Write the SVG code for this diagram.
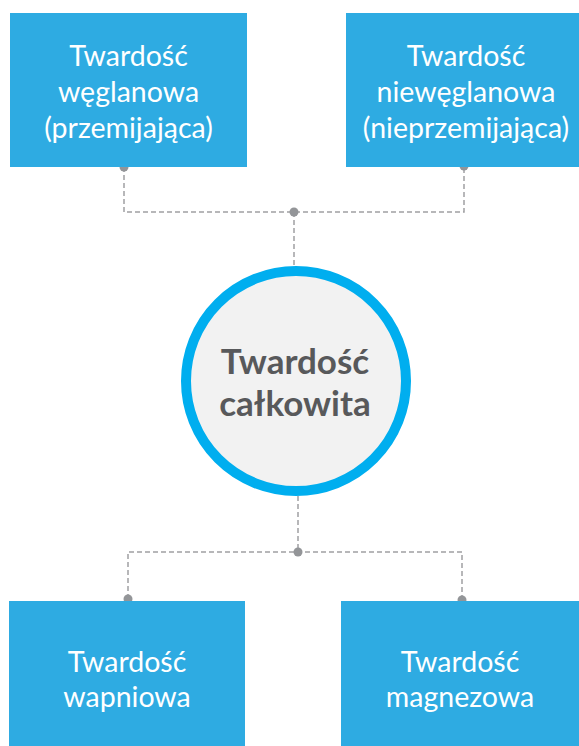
<svg xmlns="http://www.w3.org/2000/svg" width="579" height="746" viewBox="0 0 579 746">
<style>
.box{fill:#2EABE2;}
.bt{font-family:Lato,"Open Sans","Liberation Sans",sans-serif;font-size:28.5px;fill:#FFFFFF;text-anchor:middle;}
.ct{font-family:Lato,"Open Sans","Liberation Sans",sans-serif;font-size:35px;font-weight:bold;fill:#58595B;text-anchor:middle;}
.dash{fill:none;stroke:#A0A0A3;stroke-width:1.5;stroke-dasharray:5 3;}
.dot{fill:#939598;}
</style>
<rect width="579" height="746" fill="#FFFFFF"/>
<g id="connectors">
<path class="dash" d="M124 167 V212 H464 V166"/>
<path class="dash" d="M294 212 V266"/>
<path class="dash" d="M298 496 V552"/>
<path class="dash" d="M128 599 V552 H462 V600"/>
<circle class="dot" cx="124" cy="167" r="4.5"/>
<circle class="dot" cx="464" cy="166" r="4.5"/>
<circle class="dot" cx="294" cy="212" r="4.5"/>
<circle class="dot" cx="298" cy="552" r="4.5"/>
<circle class="dot" cx="128" cy="599" r="4.5"/>
<circle class="dot" cx="462" cy="600" r="4.5"/>
</g>
<g id="node-weglanowa">
<rect class="box" x="10" y="13" width="237" height="154"/>
<text class="bt" x="128.5" y="66">Twardość</text>
<text class="bt" x="128.5" y="102">węglanowa</text>
<text class="bt" x="128.5" y="138">(przemijająca)</text>
</g>
<g id="node-nieweglanowa">
<rect class="box" x="346" y="13" width="240" height="154"/>
<text class="bt" x="466" y="66">Twardość</text>
<text class="bt" x="466" y="102">niewęglanowa</text>
<text class="bt" x="466" y="138">(nieprzemijająca)</text>
</g>
<g id="node-calkowita">
<circle cx="296" cy="381" r="110" fill="#F2F2F2" stroke="#00AEEF" stroke-width="10"/>
<text class="ct" x="295" y="374">Twardość</text>
<text class="ct" x="295" y="416">całkowita</text>
</g>
<g id="node-wapniowa">
<rect class="box" x="9" y="601" width="236" height="150"/>
<text class="bt" x="127" y="672">Twardość</text>
<text class="bt" x="127" y="707">wapniowa</text>
</g>
<g id="node-magnezowa">
<rect class="box" x="341" y="601" width="240" height="150"/>
<text class="bt" x="460" y="672">Twardość</text>
<text class="bt" x="460" y="707">magnezowa</text>
</g>
</svg>
